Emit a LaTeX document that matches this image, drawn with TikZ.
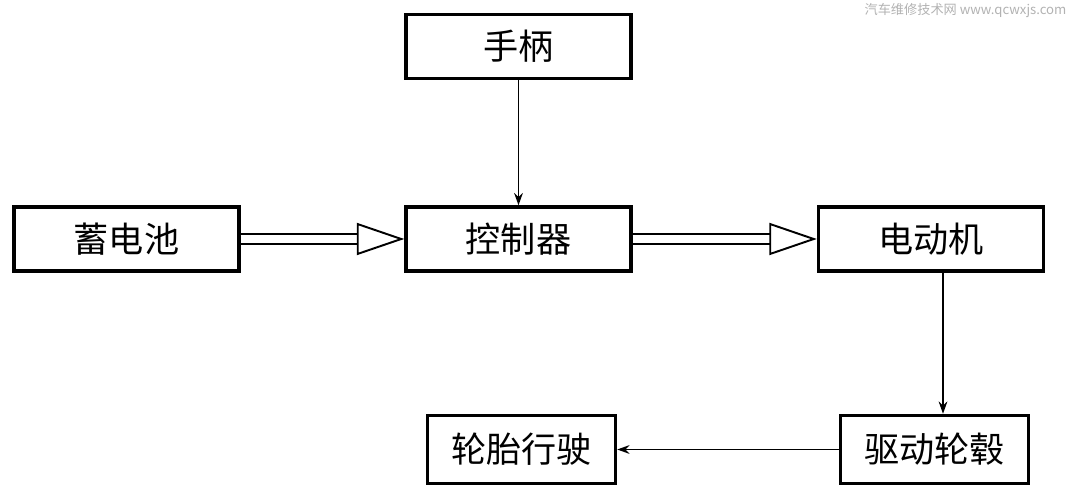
\documentclass[tikz,border=0pt]{standalone}
\usepackage{fontspec}
\newfontfamily\cjk{Noto Sans CJK SC}
\usetikzlibrary{arrows.meta, positioning, calc}
\tikzset{
  every picture/.style={font=\cjk, line width=0.85pt},
  box/.style={draw, line width=2pt, minimum width=4.5cm, minimum height=1.28cm, inner sep=0pt, font=\cjk\fontsize{20pt}{24pt}\selectfont},
  smallbox/.style={box, minimum width=3.76cm, minimum height=1.36cm},
  dblarrow/.style={double, double distance=4.2pt, line width=1.1pt, -{Triangle[open, length=0.95cm, width=0.64cm, line width=1.1pt]}},
  arrow/.style={-{Stealth[length=7pt, width=5pt]}, line width=0.85pt},
  wmark/.style={font=\cjk\fontsize{7.5pt}{9pt}\selectfont, text=black!30, anchor=east},
}

\begin{document}
\begin{tikzpicture}[x=0.02cm, y=-0.02cm]
  \useasboundingbox (0,0) rectangle (1081,489);
  % top row
  \node[box] (grip) at (518.5, 46.5) {手柄};
  \node[box] (bat)  at (126.5, 239) {蓄电池};
  \node[box] (ctl)  at (518.5, 239) {控制器};
  \node[box] (mot)  at (931, 239) {电动机};
  % bottom row
  \node[smallbox] (tire) at (521.5, 449.5) {轮胎行驶};
  \node[smallbox] (hub)  at (934.5, 449.5) {驱动轮毂};
  \node[wmark] (wm) at (1073, 11) {汽车维修技术网 www.qcwxjs.com};
  % connectors
  \draw[dblarrow] (bat) -- (ctl);
  \draw[dblarrow] (ctl) -- (mot);
  \draw[arrow] (grip) -- (ctl);
  \draw[arrow] ([xshift=0.24cm]mot.south) -- ([xshift=0.24cm]mot.south |- hub.north);
  \draw[arrow] (hub.west) -- (hub.west -| tire.east);
\end{tikzpicture}
\end{document}
